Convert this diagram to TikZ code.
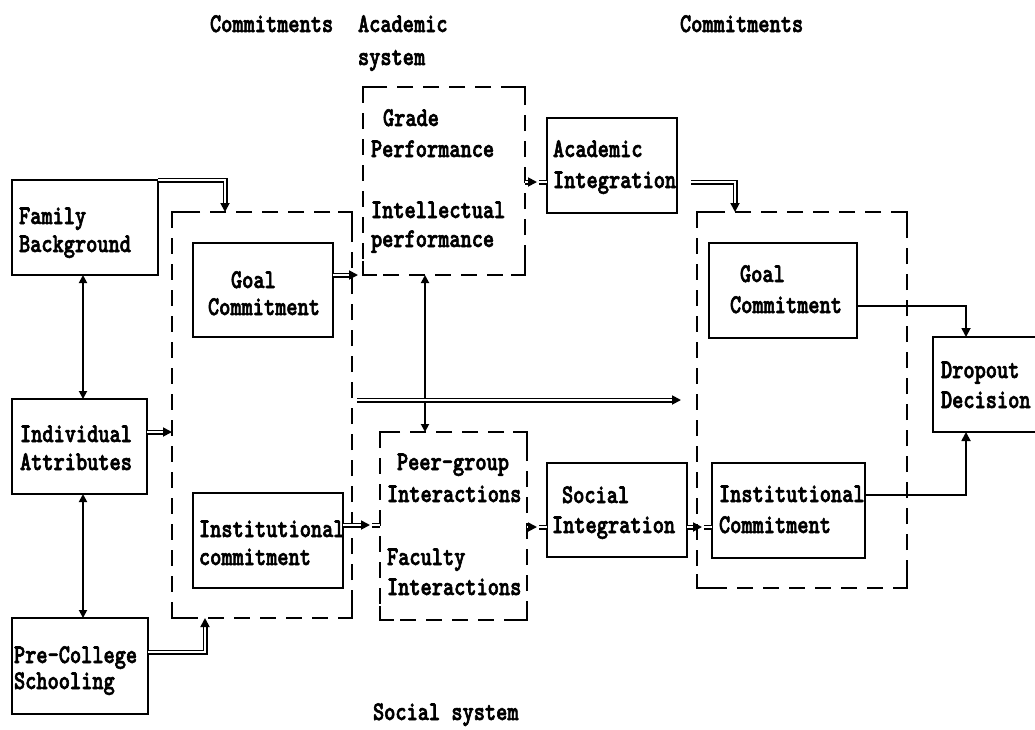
\documentclass[tikz,border=0pt]{standalone}
\usepackage{fontspec}
\newfontfamily\tw{lmmonolt10-bold.otf}[FakeStretch=0.79,FakeBold=2.2]
\usetikzlibrary{arrows.meta,calc}

% solid box given by its corners: name, left, top, right, bottom
\newcommand\solidbox[5]{%
  \node[frame, minimum width={(#4)-(#2)}, minimum height={(#5)-(#3)}] (#1) at (#2,#3) {};}
% dashed group frame with solid corners
\newcommand\groupframe[5]{%
  \node[area, minimum width={(#4)-(#2)}, minimum height={(#5)-(#3)}] (#1) at (#2,#3) {};
  \draw[dashedge] (#1.north west) rectangle (#1.south east);
  \draw[edge] ($(#1.north west)+(0,14)$) -- (#1.north west) -- ($(#1.north west)+(14,0)$);
  \draw[edge] ($(#1.north east)+(-14,0)$) -- (#1.north east) -- ($(#1.north east)+(0,14)$);
  \draw[edge] ($(#1.south west)+(0,-14)$) -- (#1.south west) -- ($(#1.south west)+(14,0)$);
  \draw[edge] ($(#1.south east)+(-14,0)$) -- (#1.south east) -- ($(#1.south east)+(0,-14)$);}
% solid arrow head at a point, pointing along (dx,dy)
\newcommand\headat[3]{%
  \draw[link,onetip] ($(#1)+(-4*#2,-4*#3)$) -- (#1);}
% double line ending in a head: start, end, direction
\newcommand\dblarrow[4]{%
  \draw[dbl,shorten >=8pt] (#1) -- (#2);
  \headat{#2}{#3}{#4}}
% double arrow with a short double stub after the head: from, to, y
\newcommand\feed[3]{%
  \dblarrow{#1.east |- 0,#3}{$(#2.west |- 0,#3)+(-10,0)$}{1}{0}
  \draw[dbl] ($(#2.west |- 0,#3)+(-8,0)$) -- (#2.west |- 0,#3);}

\begin{document}
\begin{tikzpicture}[x=1pt,y=-1pt,
  every node/.style={inner sep=0pt,outer sep=0pt},
  frame/.style={draw, line width=2.6pt, anchor=north west},
  area/.style={anchor=north west},
  edge/.style={line width=2.6pt},
  dashedge/.style={line width=2.6pt, dash pattern=on 16pt off 10pt},
  link/.style={line width=1.8pt},
  dbl/.style={double, double distance=2.2pt, line width=1.4pt},
  twotips/.style={{Triangle[length=8pt,width=8pt]}-{Triangle[length=8pt,width=8pt]}},
  onetip/.style={-{Triangle[length=9pt,width=9pt]}},
  txt/.style={anchor=base west, font=\tw\fontsize{27}{28}\selectfont}]
\useasboundingbox (0,0) rectangle (1035,729);

% column headings
\node[txt] (hcl) at (210,32) {Commitments};
\node[txt] (hac) at (358,32) {Academic};
\node[txt] (hac2) at (358,65) {system};
\node[txt] (hcr) at (680,32) {Commitments};
\node[txt] (hso) at (373,720) {Social system};

% group frames
\groupframe{cmtL}{172}{212}{352}{618}
\groupframe{acad}{363}{87}{525}{275}
\groupframe{soc}{380}{432}{527}{620}
\groupframe{cmtR}{697}{212}{907}{588}

% boxes
\solidbox{fam}{12}{180}{158}{275}
\solidbox{ind}{12}{399}{147}{494}
\solidbox{pre}{12}{618}{148}{714}
\solidbox{goalL}{193}{243}{333}{337}
\solidbox{instL}{193}{493}{343}{588}
\solidbox{acInt}{547}{118}{677}{213}
\solidbox{soInt}{547}{463}{687}{557}
\solidbox{goalR}{709}{243}{857}{338}
\solidbox{instR}{712}{463}{865}{558}
\node[area, minimum width=102, minimum height=95] (drop) at (933,337) {};
\draw[edge] (drop.north east) -- (drop.north west) -- (drop.south west) -- (drop.south east);

% box texts
\node[txt] (t1) at (19,224) {Family};
\node[txt] (t2) at (19,252) {Background};
\node[txt] (t3) at (20,442) {Individual};
\node[txt] (t4) at (20,470) {Attributes};
\node[txt] (t5) at (14,663) {Pre-College};
\node[txt] (t6) at (14,689) {Schooling};
\node[txt] (t7) at (231,288) {Goal};
\node[txt] (t8) at (208,315) {Commitment};
\node[txt] (t9) at (199,537) {Institutional};
\node[txt] (t10) at (199,565) {commitment};
\node[txt] (t11) at (383,126) {Grade};
\node[txt] (t12) at (371,157) {Performance};
\node[txt] (t13) at (371,218) {Intellectual};
\node[txt] (t14) at (371,247) {performance};
\node[txt] (t15) at (553,157) {Academic};
\node[txt] (t16) at (553,188) {Integration};
\node[txt] (t17) at (397,470) {Peer-group};
\node[txt] (t18) at (387,502) {Interactions};
\node[txt] (t19) at (387,565) {Faculty};
\node[txt] (t20) at (387,595) {Interactions};
\node[txt] (t21) at (562,503) {Social};
\node[txt] (t22) at (552,533) {Integration};
\node[txt] (t23) at (740,282) {Goal};
\node[txt] (t24) at (730,313) {Commitment};
\node[txt] (t25) at (719,502) {Institutional};
\node[txt] (t26) at (719,533) {Commitment};
\node[txt] (t27) at (941,378) {Dropout};
\node[txt] (t28) at (941,408) {Decision};

% background links
\draw[dbl,shorten >=8pt] (fam.north east) -| (cmtL.north west -| 225,0);
\headat{cmtL.north west -| 225,0}{0}{1}
\draw[link,twotips] (fam.south -| 83,0) -- (ind.north -| 83,0);
\draw[link,twotips] (ind.south -| 83,0) -- (pre.north -| 83,0);
\dblarrow{ind.east |- 0,432}{cmtL.west |- 0,432}{1}{0}
\draw[dbl,shorten >=8pt] (pre.east |- 0,652) -| (cmtL.south -| 205,0);
\headat{cmtL.south -| 205,0}{0}{-1}

% commitments into the academic and social systems
\dblarrow{goalL.east |- acad.south west}{$(acad.south west)+(-5,0)$}{1}{0}
\feed{instL}{soc}{525}
\draw[link,twotips] (acad.south -| 425,0) -- (soc.north -| 425,0);
\dblarrow{$(cmtL.east |- 0,400)+(5,0)$}{$(cmtR.west |- 0,400)+(-16,0)$}{1}{0}

% integration
\feed{acad}{acInt}{182}
\feed{soc}{soInt}{527}
\feed{soInt}{instR}{527}
\draw[dbl,shorten <=14pt,shorten >=8pt] (acInt.east |- 0,182) -| (cmtR.north -| 735,0);
\headat{cmtR.north -| 735,0}{0}{1}

% dropout decision
\draw[link,onetip] (goalR.east |- 0,306) -| (drop.north -| 966,0);
\draw[link,onetip] (instR.east |- 0,495) -| (drop.south -| 966,0);
\end{tikzpicture}
\end{document}
